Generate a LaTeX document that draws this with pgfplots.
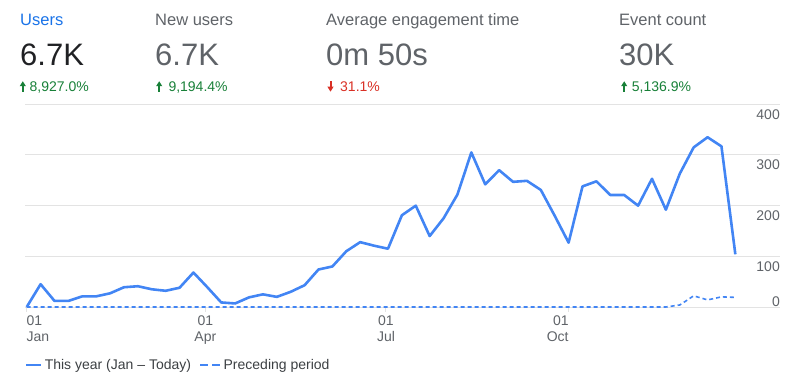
\documentclass[border=0pt]{standalone}
\usepackage{pgfplots}
\pgfplotsset{compat=1.18}
\usepackage{pgfplotstable}
\usepackage{fontspec}
\setmainfont{Liberation Sans}
\usetikzlibrary{arrows.meta}
\definecolor{gablue}{HTML}{4285F4}
\definecolor{gaLabelBlue}{HTML}{1A73E8}
\definecolor{gadark}{HTML}{202124}
\definecolor{gagray}{HTML}{5F6368}
\definecolor{gagreen}{HTML}{188038}
\definecolor{gared}{HTML}{D93025}
\definecolor{gagrid}{HTML}{E3E3E3}
\definecolor{galegend}{HTML}{3C4043}

\pgfplotstableread{
day cur prev
0 0 0
7 45 0
14 12 0
21 12 0
28 21 0
35 21 0
42 27 0
49 39 0
56 41 0
63 35 0
70 32 0
77 38 0
84 68 0
91 39 0
98 9 0
105 7 0
112 19 0
119 25 0
126 20 0
133 30 0
140 43 0
147 74 0
154 80 0
161 110 0
168 128 0
175 121 0
182 115 0
189 181 0
196 200 0
203 140 0
210 175 0
217 222 0
224 305 0
231 242 0
238 270 0
245 247 0
252 249 0
259 231 0
266 180 0
273 127 0
280 238 0
287 248 0
294 221 0
301 221 0
308 200 0
315 253 0
322 192 0
329 263 4
336 315 22
343 335 14
350 317 20
357 104 19
}\gadata

\newcommand{\lab}{\fontsize{16.5bp}{20bp}\selectfont}
\newcommand{\bignum}{\fontsize{31bp}{36bp}\selectfont}
\newcommand{\pct}{\fontsize{14bp}{16bp}\selectfont}
\newcommand{\tck}{\fontsize{14bp}{16bp}\selectfont}

\begin{document}
\begin{tikzpicture}[x=1bp,y=1bp]
\path[use as bounding box] (0,0) rectangle (800,388);

% header
\node[anchor=base west, inner sep=0, text=gaLabelBlue, font=\lab] at (20,362.7) {Users};
\node[anchor=base west, inner sep=0, text=gagray, font=\lab] at (155,362.7) {New users};
\node[anchor=base west, inner sep=0, text=gagray, font=\lab] at (326,362.7) {Average engagement time};
\node[anchor=base west, inner sep=0, text=gagray, font=\lab] at (619,362.7) {Event count};

\node[anchor=base west, inner sep=0, text=gadark, font=\bignum] at (20,323) {6.7K};
\node[anchor=base west, inner sep=0, text=gagray, font=\bignum] at (155,323) {6.7K};
\node[anchor=base west, inner sep=0, text=gagray, font=\bignum] at (326,323) {0m 50s};
\node[anchor=base west, inner sep=0, text=gagray, font=\bignum] at (619,323) {30K};

\draw[gagreen, line width=2, -{Triangle[length=5,width=5.8]}] (22.8,296.3) -- (22.8,306.8);
\draw[gagreen, line width=2, -{Triangle[length=5,width=5.8]}] (159.2,296.3) -- (159.2,306.8);
\draw[gared, line width=2, -{Triangle[length=5,width=5.8]}] (330.5,306.8) -- (330.5,296.3);
\draw[gagreen, line width=2, -{Triangle[length=5,width=5.8]}] (624.2,296.3) -- (624.2,306.8);

\node[anchor=base west, inner sep=0, text=gagreen, font=\pct] at (29.5,296.3) {8,927.0\%};
\node[anchor=base west, inner sep=0, text=gagreen, font=\pct] at (168.3,296.3) {9,194.4\%};
\node[anchor=base west, inner sep=0, text=gared, font=\pct] at (340,296.3) {31.1\%};
\node[anchor=base west, inner sep=0, text=gagreen, font=\pct] at (631.7,296.3) {5,136.9\%};

\begin{axis}[
  at={(25bp,81bp)}, anchor=south west,
  width=755bp, height=202.7bp, scale only axis,
  xmin=-0.86, xmax=379.5, ymin=0, ymax=400,
  axis line style={draw=none},
  clip=false,
  ytick={100,200,300,400}, yticklabels={100,200,300,400},
  extra y ticks={0}, extra y tick labels={0},
  extra y tick style={grid=major, yticklabel style={anchor=south east, yshift=5bp}},
  ymajorgrids, grid style={gagrid, line width=1bp},
  yticklabel pos=right,
  y tick style={draw=none},
  yticklabel style={font=\tck, text=gagray, anchor=north east, inner sep=0pt, xshift=-5bp, yshift=-5bp},
  xtick={0,90,181,273},
  xticklabels={{\rlap{01}\\\rlap{Jan}},{01\\Apr},{01\\Jul},{\llap{01}\\\llap{Oct}}},
  xticklabel style={font=\tck, text=gagray, align=center, anchor=north, inner sep=0pt, yshift=-4bp},
  x tick style={gagrid, line width=1bp},
  tick align=outside, major tick length=5bp,
  xtick pos=bottom,
  legend style={at={(axis description cs:0,-0.286)}, anchor=west, draw=none, fill=none,
    font=\tck, text=galegend, inner sep=0pt,
    /tikz/every even column/.append style={column sep=6bp}},
  legend columns=-1, legend cell align=left,
]
\addplot[gablue, line width=2.6bp, line join=round,
  legend image code/.code={\draw[gablue, line width=2.6bp] (0bp,0bp) -- (15bp,0bp);}]
  table[x=day, y=cur] {\gadata};
\addplot[gablue, line width=1.6bp, dash pattern=on 4bp off 3bp,
  legend image code/.code={\draw[gablue, line width=2.6bp, dash pattern=on 8bp off 4bp] (0bp,0bp) -- (20bp,0bp);}]
  table[x=day, y=prev] {\gadata};
\legend{This year (Jan -- Today), Preceding period}
\end{axis}
\end{tikzpicture}
\end{document}
